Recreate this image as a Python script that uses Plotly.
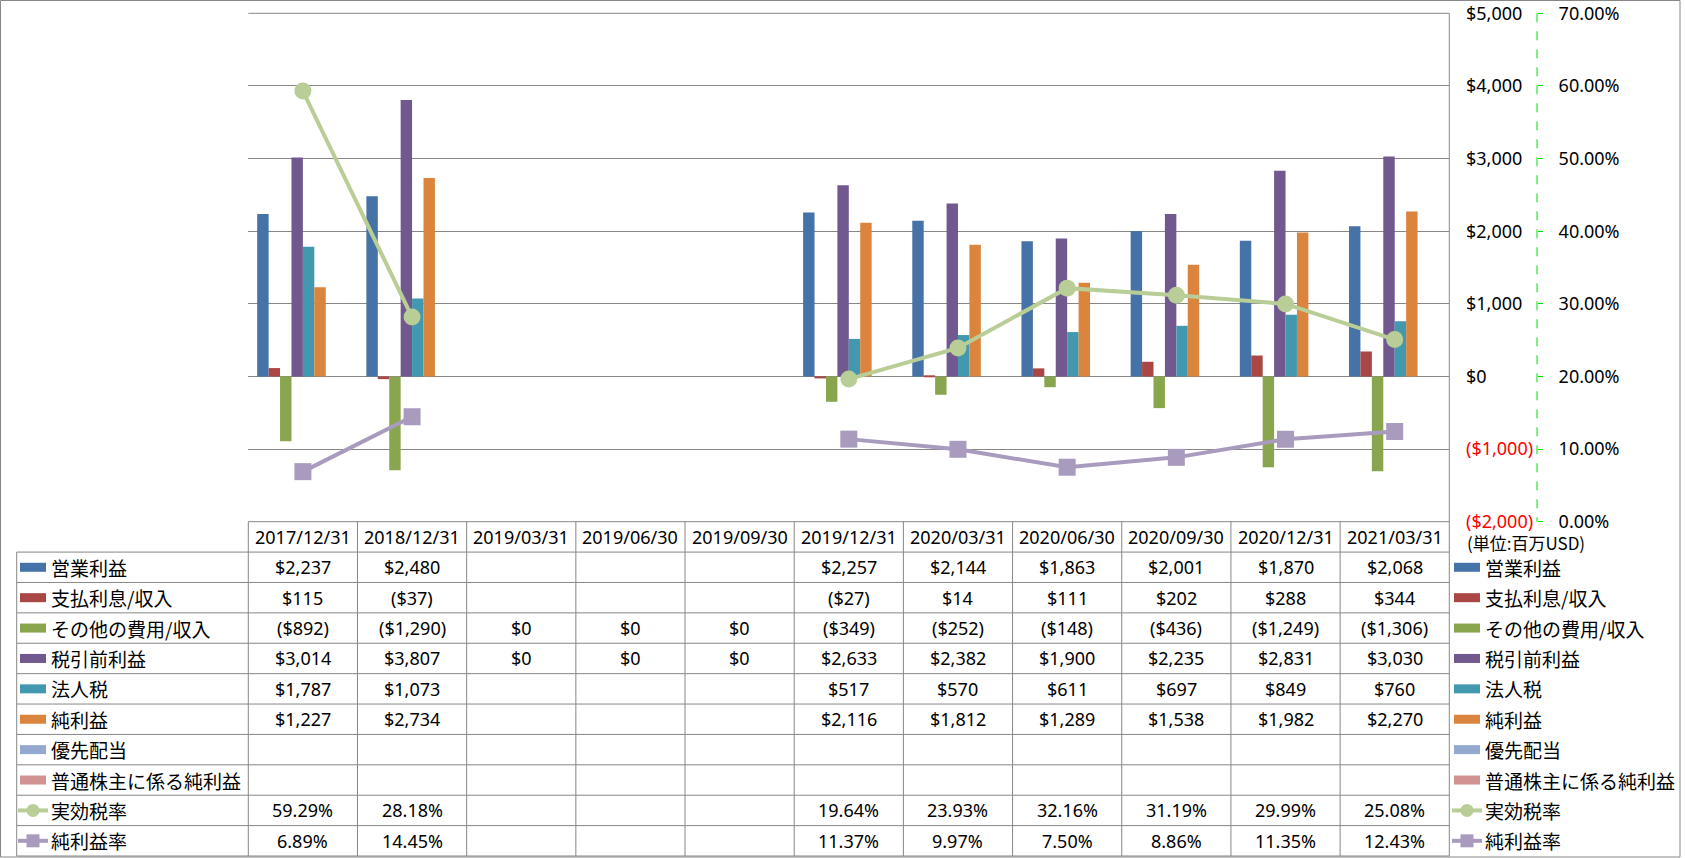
import plotly.graph_objects as go

# ---------------- data ----------------
dates = ["2017/12/31", "2018/12/31", "2019/03/31", "2019/06/30", "2019/09/30",
         "2019/12/31", "2020/03/31", "2020/06/30", "2020/09/30", "2020/12/31", "2021/03/31"]

op_income = [2237, 2480, None, None, None, 2257, 2144, 1863, 2001, 1870, 2068]
interest = [115, -37, None, None, None, -27, 14, 111, 202, 288, 344]
other_exp = [-892, -1290, 0, 0, 0, -349, -252, -148, -436, -1249, -1306]
pretax = [3014, 3807, 0, 0, 0, 2633, 2382, 1900, 2235, 2831, 3030]
income_tax = [1787, 1073, None, None, None, 517, 570, 611, 697, 849, 760]
net_income = [1227, 2734, None, None, None, 2116, 1812, 1289, 1538, 1982, 2270]
pref_div = [None, None, None, None, None, None, None, None, None, None, None]
net_common = [None, None, None, None, None, None, None, None, None, None, None]
eff_tax_rate = [59.29, 28.18, None, None, None, 19.64, 23.93, 32.16, 31.19, 29.99, 25.08]
net_margin = [6.89, 14.45, None, None, None, 11.37, 9.97, 7.50, 8.86, 11.35, 12.43]

bar_names = ["営業利益", "支払利息/収入", "その他の費用/収入", "税引前利益", "法人税", "純利益",
             "優先配当", "普通株主に係る純利益"]
bar_values = [op_income, interest, other_exp, pretax, income_tax, net_income, pref_div, net_common]
bar_colors = ["#4572A7", "#AA4643", "#89A54E", "#71588F", "#4198AF", "#DB843D", "#93A9CF", "#D19392"]

line_names = ["実効税率", "純利益率"]
line_values = [eff_tax_rate, net_margin]
line_colors = ["#B9CD96", "#A99BBD"]
line_symbols = ["circle", "square"]

usd_ticks = [-2000, -1000, 0, 1000, 2000, 3000, 4000, 5000]
pct_ticks = [0, 10, 20, 30, 40, 50, 60, 70]
unit_label = "(単位:百万USD)"

# ---------------- geometry (pixels) ----------------
W, H = 1685, 858
PL, PR = 248.3, 1449.3      # plot / table left & right
PT, PB = 13.3, 521.7        # plot top / bottom (= table top)
TB = 856.0                  # table bottom
LBL_L = 16.7                # label column left
NCOL = len(dates)
CW = (PR - PL) / NCOL
RH = (TB - PB) / 11
AX_X = 1537.0               # green dashed axis line

GRID = "#878787"
NUM_FONT = "Noto Sans, Noto Sans CJK JP"
JP_FONT = "Noto Sans CJK JP"


def px(x):
    return x / W


def py(y):
    return 1 - y / H


def fmt_usd(v):
    if v is None:
        return ""
    return f"${v:,.0f}" if v >= 0 else f"(${-v:,.0f})"


def fmt_pct(v):
    return "" if v is None else f"{v:.2f}%"


fig = go.Figure()

for name, vals, col in zip(bar_names, bar_values, bar_colors):
    fig.add_trace(go.Bar(x=dates, y=vals, name=name, marker=dict(color=col, line=dict(width=0)),
                         xaxis="x", yaxis="y"))

for name, vals, col, sym in zip(line_names, line_values, line_colors, line_symbols):
    fig.add_trace(go.Scatter(x=dates, y=vals, name=name, mode="lines+markers",
                             line=dict(color=col, width=4),
                             marker=dict(symbol=sym, size=17, color=col, line=dict(width=0)),
                             xaxis="x", yaxis="y2", connectgaps=False))

usd_text = []
for v in usd_ticks:
    if v < 0:
        usd_text.append(f"<span style='color:#FF0000'>{fmt_usd(v)}</span>")
    else:
        usd_text.append(fmt_usd(v))

shapes = []
annotations = []


def hline(x0, x1, y, color=GRID, width=1, dash="solid"):
    shapes.append(dict(type="line", xref="paper", yref="paper", x0=px(x0), x1=px(x1), y0=py(y), y1=py(y),
                       line=dict(color=color, width=width, dash=dash), layer="above"))


def vline(x, y0, y1, color=GRID, width=1, dash="solid"):
    shapes.append(dict(type="line", xref="paper", yref="paper", x0=px(x), x1=px(x), y0=py(y0), y1=py(y1),
                       line=dict(color=color, width=width, dash=dash), layer="above"))


def text(x, y, s, size=18, family=NUM_FONT, anchor="center", color="#000000"):
    annotations.append(dict(xref="paper", yref="paper", x=px(x), y=py(y), text=s, showarrow=False,
                            xanchor=anchor, yanchor="middle", font=dict(family=family, size=size, color=color)))


# outer border
shapes.append(dict(type="rect", xref="paper", yref="paper", x0=px(0.5), x1=px(1680), y0=py(0.5), y1=py(857),
                   line=dict(color=GRID, width=1), fillcolor="rgba(0,0,0,0)", layer="below"))

# plot top & bottom lines, right edge
hline(PL, PR, PT)
vline(PR, PT, TB)
# green dashed axis line
vline(AX_X, PT, PB, color="#00E000", width=1, dash="dash")

# table grid
hline(PL, PR, PB)
for k in range(1, 12):
    hline(LBL_L, PR, PB + k * RH)
vline(LBL_L, PB + RH, TB)
for j in range(NCOL):
    vline(PL + j * CW, PB, TB)

# header
for j, d in enumerate(dates):
    text(PL + (j + 0.5) * CW, PB + 0.5 * RH, d)

# rows
row_series = [(n, v, "usd", c) for n, v, c in zip(bar_names, bar_values, bar_colors)] + \
             [(n, v, "pct", c) for n, v, c in zip(line_names, line_values, line_colors)]


def legend_key(x0, yc, kind, color, sym=None):
    if kind == "bar":
        shapes.append(dict(type="rect", xref="paper", yref="paper", x0=px(x0), x1=px(x0 + 26),
                           y0=py(yc - 4.5), y1=py(yc + 4.5), line=dict(width=0), fillcolor=color, layer="above"))
    else:
        shapes.append(dict(type="line", xref="paper", yref="paper", x0=px(x0 - 2), x1=px(x0 + 28),
                           y0=py(yc), y1=py(yc), line=dict(color=color, width=4), layer="above"))
        cx = x0 + 13
        r = 6.5
        shapes.append(dict(type="circle" if sym == "circle" else "rect", xref="paper", yref="paper",
                           x0=px(cx - r), x1=px(cx + r), y0=py(yc - r), y1=py(yc + r),
                           line=dict(width=0), fillcolor=color, layer="above"))


for i, (name, vals, kind, col) in enumerate(row_series):
    yc = PB + (i + 1.5) * RH
    sym = None
    if kind == "pct":
        sym = line_symbols[i - len(bar_names)]
    key_kind = "bar" if kind == "usd" else "line"
    legend_key(20, yc, key_kind, col, sym)
    text(49, yc, name, size=19, family=JP_FONT, anchor="left")
    legend_key(1454, yc, key_kind, col, sym)
    text(1483, yc, name, size=19, family=JP_FONT, anchor="left")
    for j, v in enumerate(vals):
        s = fmt_usd(v) if kind == "usd" else fmt_pct(v)
        if s:
            text(PL + (j + 0.5) * CW, yc, s)

text(1465, 542.7, unit_label, size=17, family=JP_FONT, anchor="left")

fig.update_layout(
    width=W, height=H,
    margin=dict(l=0, r=0, t=0, b=0, pad=0, autoexpand=False),
    paper_bgcolor="white", plot_bgcolor="white",
    showlegend=False,
    barmode="group", bargap=0.163, bargroupgap=0,
    font=dict(family=NUM_FONT, size=18, color="#000000"),
    xaxis=dict(domain=[px(PL), px(PR)], type="category", range=[-0.5, NCOL - 0.5],
               showticklabels=False, showgrid=False, zeroline=False, showline=False, ticks="",
               automargin=False),
    yaxis=dict(domain=[py(PB), py(PT)], range=[-2000, 5000], tickvals=usd_ticks, ticktext=usd_text,
               anchor="free", position=px(1465), side="right", ticks="", showline=False,
               showgrid=True, gridcolor=GRID, gridwidth=1, zeroline=False, automargin=False,
               tickfont=dict(family=NUM_FONT, size=18, color="#000000")),
    yaxis2=dict(range=[0, 70], tickvals=pct_ticks, ticktext=[fmt_pct(v) for v in pct_ticks],
                overlaying="y", anchor="free", position=px(AX_X), side="right",
                ticks="outside", ticklen=5, tickcolor="#00E000", tickwidth=1, showline=False,
                showgrid=False, zeroline=False, ticklabelstandoff=12, automargin=False,
                tickfont=dict(family=NUM_FONT, size=18, color="#000000")),
    shapes=shapes, annotations=annotations,
)

fig.write_html("out.html", config={"displayModeBar": False},
               post_script="document.body.style.margin='0';document.body.style.overflow='hidden';")
